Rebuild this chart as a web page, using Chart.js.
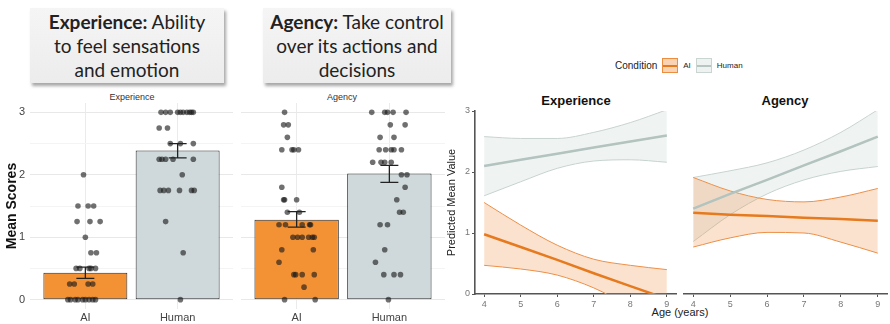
<!DOCTYPE html>
<html>
<head>
<meta charset="utf-8">
<script src="https://cdn.jsdelivr.net/npm/chart.js@4.4.0/dist/chart.umd.min.js"></script>
<style>
  body { margin: 0; width: 890px; height: 324px; background: #fff; position: relative; overflow: hidden; font-family: "Liberation Sans", Arial, sans-serif; }
  .box { position: absolute; top: 8px; height: 75px; background: linear-gradient(#f5f5f5, #ececec); box-shadow: 2px 3px 3px rgba(0,0,0,0.35);
         font-family: Lato, sans-serif; font-size: 19px; line-height: 24px; text-align: center; color: #222; display: flex; align-items: center; justify-content: center; }
  .cv { position: absolute; }
  .lbl { position: absolute; transform: translateX(-50%); white-space: nowrap; }
  .strip { font-size: 9px; color: #333; top: 92px; }
  .ptitle { font-size: 13px; font-weight: bold; color: #111; top: 93px; }
  .legend { position: absolute; top: 58px; left: 615px; display: flex; align-items: center; font-size: 10px; color: #222; }
  .sw { width: 16px; height: 15px; position: relative; margin: 0 5px 0 5px; box-sizing: border-box; }
  .sw::after { content: ""; position: absolute; left: 0; right: 0; top: 6px; height: 2px; }
  .sw.ai { background: #f9d3b3; border: 1px solid #ec8d40; }
  .sw.ai::after { background: #e67a1e; }
  .sw.hu { background: #eef2f1; border: 1px solid #cad5d2; }
  .sw.hu::after { background: #b8c6c2; }
  .small { font-size: 8px; }
</style>
</head>
<body>

<div class="box" style="left:30px;width:194px;"><div><b>Experience:</b> Ability<br>to feel sensations<br>and emotion</div></div>
<div class="box" style="left:263px;width:188px;"><div><b>Agency:</b> Take control<br>over its actions and<br>decisions</div></div>

<div class="lbl strip" style="left:132px;">Experience</div>
<div class="lbl strip" style="left:342px;">Agency</div>

<div class="legend">Condition<span class="sw ai"></span><span class="small">AI</span><span class="sw hu"></span><span class="small">Human</span></div>
<div class="lbl ptitle" style="left:576px;">Experience</div>
<div class="lbl ptitle" style="left:785px;">Agency</div>
<div class="lbl" style="left:680px;top:306px;font-size:11px;color:#222;">Age (years)</div>

<canvas id="barExp" class="cv" width="237" height="236" style="left:0;top:88px;"></canvas>
<canvas id="barAg" class="cv" width="213" height="236" style="left:237px;top:88px;"></canvas>
<canvas id="lineExp" class="cv" width="234" height="224" style="left:445px;top:100px;"></canvas>
<canvas id="lineAg" class="cv" width="210" height="224" style="left:680px;top:100px;"></canvas>

<script>
// カテゴリ
const conditions = ['AI', 'Human'];

// 平均値と標準誤差の範囲
const expMeans = [0.43, 2.39];
const expErrLow = [0.34, 2.27];
const expErrHigh = [0.52, 2.50];
const agMeans = [1.28, 2.02];
const agErrLow = [1.16, 1.88];
const agErrHigh = [1.41, 2.15];

// 個人の得点（Experience）とジッター
const expAiScores = [2.0, 1.5, 1.5, 1.5, 1.25, 1.25, 1.25, 1.0, 0.75, 0.75, 0.5, 0.5, 0.5, 0.5, 0.5,
  0.25, 0.25, 0.25, 0.25, 0, 0, 0, 0, 0, 0, 0, 0, 0];
const expAiJitter = [-0.02, -0.08, 0.03, 0.09, -0.09, 0.05, 0.16, 0.0, 0.06, 0.12, -0.10, -0.06, 0.04, 0.06, 0.11,
  -0.17, -0.12, 0.03, 0.08, -0.19, -0.16, -0.11, -0.08, -0.03, 0.0, 0.04, 0.08, 0.11];
const expHumanScores = [3, 3, 3, 3, 3, 3, 3, 3, 3, 3, 2.75, 2.75, 2.5, 2.5, 2.5, 2.25, 2.25, 2.25, 2.25, 2.25,
  2.0, 1.75, 1.75, 1.75, 1.75, 1.75, 1.75, 1.25, 0.75, 0];
const expHumanJitter = [-0.18, -0.13, -0.08, 0.0, 0.03, 0.06, 0.10, 0.13, 0.15, 0.17, -0.20, -0.11, -0.08, 0.03, 0.17,
  -0.20, -0.17, -0.13, -0.05, 0.17, 0.05, -0.19, -0.15, -0.10, 0.02, 0.15, 0.18, -0.13, 0.06, 0.03];

// 個人の得点（Agency）とジッター
const agAiScores = [3.0, 2.8, 2.8, 2.6, 2.4, 2.4, 2.4, 2.4, 1.8, 1.6, 1.6, 1.6, 1.4, 1.4, 1.2, 1.2, 1.2, 1.2, 1.2,
  1.0, 1.0, 1.0, 1.0, 1.0, 1.0, 0.8, 0.8, 0.6, 0.4, 0.4, 0.4, 0.4, 0.2, 0, 0];
const agAiJitter = [-0.13, -0.14, -0.09, -0.10, -0.16, -0.05, -0.03, 0.02, -0.16, -0.14, -0.13, 0.0, -0.10, 0.03,
  -0.19, -0.12, 0.06, 0.14, 0.15, -0.04, 0.01, 0.06, 0.13, 0.17, 0.19, -0.16, 0.18, -0.19, -0.03, -0.01, 0.06, 0.19,
  0.08, -0.13, 0.20];
const agHumanScores = [3.0, 3.0, 3.0, 3.0, 3.0, 2.8, 2.8, 2.6, 2.6, 2.4, 2.4, 2.4, 2.4, 2.4, 2.2, 2.2, 2.2, 2.2,
  2.0, 2.0, 1.8, 1.6, 1.4, 1.4, 1.2, 1.2, 0.8, 0.6, 0.4, 0.4, 0.4, 0];
const agHumanJitter = [-0.19, -0.05, -0.02, 0.04, 0.18, 0.01, 0.17, -0.10, 0.05, -0.11, -0.04, 0.02, 0.05, 0.13,
  -0.18, -0.09, -0.05, 0.02, 0.13, 0.19, 0.17, 0.08, 0.11, 0.15, -0.10, -0.02, -0.05, -0.15, -0.06, 0.05, 0.12, -0.01];

// 年齢ごとの予測値（右側のパネル）
const ages = [4, 5, 6, 7, 8, 9];
const expHumanFit = [2.10, 2.20, 2.30, 2.40, 2.50, 2.60];
const expHumanHi = [2.58, 2.55, 2.55, 2.65, 2.81, 3.02];
const expHumanLo = [1.61, 1.84, 2.06, 2.18, 2.20, 2.16];
const expAiFit = [0.98, 0.77, 0.56, 0.34, 0.13, -0.08];
const expAiHi = [1.50, 1.13, 0.80, 0.57, 0.47, 0.40];
const expAiLo = [0.47, 0.41, 0.31, 0.10, -0.20, -0.45];

const agHumanFit = [1.40, 1.64, 1.87, 2.11, 2.34, 2.58];
const agHumanHi = [1.91, 2.02, 2.15, 2.36, 2.65, 3.02];
const agHumanLo = [0.86, 1.30, 1.64, 1.87, 2.01, 2.09];
const agAiFit = [1.33, 1.30, 1.28, 1.25, 1.23, 1.20];
const agAiHi = [1.91, 1.69, 1.55, 1.51, 1.59, 1.73];
const agAiLo = [0.77, 0.92, 1.01, 1.00, 0.85, 0.67];

const barTicks = [0, 0.5, 1, 1.5, 2, 2.5, 3];
const meanTicks = [0, 1, 2, 3];

// 色
const aiBar = '#f39234';
const humanBar = '#cfd9db';
const aiLine = '#e67a1e';
const aiEdge = '#ec9049';
const aiFill = 'rgba(240, 140, 60, 0.25)';
const humanLine = '#b3c3bf';
const humanEdge = '#c8d3d0';
const humanFill = 'rgba(190, 210, 205, 0.25)';

// エラーバーを描くプラグイン
const errorBars = {
  id: 'errorBars',
  afterDatasetsDraw(chart, args, opts) {
    const { ctx, scales: { x, y } } = chart;
    ctx.save();
    ctx.strokeStyle = '#222';
    ctx.lineWidth = 1.3;
    opts.lo.forEach((lo, i) => {
      const px = x.getPixelForValue(i);
      const yl = y.getPixelForValue(lo);
      const yh = y.getPixelForValue(opts.hi[i]);
      ctx.beginPath();
      ctx.moveTo(px, yl); ctx.lineTo(px, yh);
      ctx.moveTo(px - 9, yl); ctx.lineTo(px + 9, yl);
      ctx.moveTo(px - 9, yh); ctx.lineTo(px + 9, yh);
      ctx.stroke();
    });
    ctx.restore();
  }
};

function toPoints(scores, jitter, cat) {
  return scores.map((s, i) => ({ x: cat + jitter[i], y: s }));
}

function barChart(id, means, lo, hi, aiScores, aiJit, huScores, huJit, showY) {
  const ctx = document.getElementById(id).getContext('2d');
  return new Chart(ctx, {
    type: 'bar',
    data: {
      datasets: [
        {
          type: 'scatter',
          data: toPoints(aiScores, aiJit, 0).concat(toPoints(huScores, huJit, 1)),
          backgroundColor: 'rgba(25, 25, 25, 0.62)',
          borderWidth: 0,
          pointRadius: 2.8,
          order: 0
        },
        {
          data: means.map((m, i) => ({ x: i, y: m })),
          backgroundColor: [aiBar, humanBar],
          borderColor: '#2a2a2a',
          borderWidth: 1,
          borderSkipped: false,
          categoryPercentage: 1,
          barPercentage: 0.91,
          order: 1
        }
      ]
    },
    options: {
      responsive: false,
      animation: false,
      layout: { padding: { top: 15, right: showY ? 2 : 5, left: 0, bottom: 0 } },
      plugins: {
        legend: { display: false },
        tooltip: { enabled: false },
        errorBars: { lo: lo, hi: hi }
      },
      scales: {
        x: {
          type: 'linear',
          offset: false,
          min: -0.6,
          max: 1.6,
          afterBuildTicks: s => { s.ticks = [{ value: 0 }, { value: 1 }]; },
          afterFit: s => { s.height = 15; },
          ticks: { callback: v => conditions[v], color: '#444', font: { size: 11 }, padding: 2 },
          grid: { color: '#ebebeb', drawTicks: false, offset: false },
          border: { display: false }
        },
        y: {
          min: -0.15,
          max: 3.15,
          afterBuildTicks: s => { s.ticks = barTicks.map(v => ({ value: v })); },
          afterFit: s => { s.width = showY ? 30 : 1; },
          ticks: {
            display: showY,
            callback: v => (Number.isInteger(v) ? v : ''),
            color: '#444', font: { size: 11 }, padding: 5
          },
          grid: { color: c => (Number.isInteger(c.tick.value) ? '#e8e8e8' : '#f4f4f4'), drawTicks: false },
          border: { display: false },
          title: { display: showY, text: 'Mean Scores', color: '#111', font: { size: 14, weight: 'bold' }, padding: { top: 4, bottom: 0 } }
        }
      }
    },
    plugins: [errorBars]
  });
}

function xy(vals) {
  return vals.map((v, i) => ({ x: ages[i], y: v }));
}

function lineChart(id, aiFit, aiHi, aiLo, huFit, huHi, huLo, showY) {
  const ctx = document.getElementById(id).getContext('2d');
  const edge = (vals, color, fill, bg) => ({
    data: xy(vals), borderColor: color, borderWidth: 1, pointRadius: 0,
    fill: fill, backgroundColor: bg, cubicInterpolationMode: 'monotone', clip: 0
  });
  return new Chart(ctx, {
    type: 'line',
    data: {
      datasets: [
        { data: xy(aiFit), borderColor: aiLine, borderWidth: 2.5, pointRadius: 0, fill: false, clip: 0 },
        { data: xy(huFit), borderColor: humanLine, borderWidth: 2.5, pointRadius: 0, fill: false, clip: 0 },
        edge(aiHi, aiEdge, '+1', aiFill),
        edge(aiLo, aiEdge, false, aiFill),
        edge(huHi, humanEdge, '+1', humanFill),
        edge(huLo, humanEdge, false, humanFill)
      ]
    },
    options: {
      responsive: false,
      animation: false,
      layout: { padding: { top: 11, left: showY ? 0 : 4, right: 3, bottom: 0 } },
      plugins: { legend: { display: false }, tooltip: { enabled: false } },
      scales: {
        x: {
          type: 'linear',
          min: 3.75,
          max: 9.25,
          afterBuildTicks: s => { s.ticks = ages.map(v => ({ value: v })); },
          afterFit: s => { s.height = 30; },
          ticks: { color: '#777', font: { size: 9 }, padding: 2 },
          grid: { drawOnChartArea: false, color: '#555', tickLength: 3 },
          border: { color: '#555', width: 1.6 }
        },
        y: {
          display: showY,
          min: 0,
          max: 3,
          afterBuildTicks: s => { s.ticks = meanTicks.map(v => ({ value: v })); },
          afterFit: s => { s.width = showY ? 30 : 0; },
          ticks: { color: '#777', font: { size: 9 }, padding: 2 },
          grid: { drawOnChartArea: false, color: '#555', tickLength: 3 },
          border: { color: '#555', width: 1.6 },
          title: { display: true, text: 'Predicted Mean Value', color: '#222', font: { size: 11 }, padding: 0 }
        }
      }
    }
  });
}

function renderAll() {
  barChart('barExp', expMeans, expErrLow, expErrHigh, expAiScores, expAiJitter, expHumanScores, expHumanJitter, true);
  barChart('barAg', agMeans, agErrLow, agErrHigh, agAiScores, agAiJitter, agHumanScores, agHumanJitter, false);
  lineChart('lineExp', expAiFit, expAiHi, expAiLo, expHumanFit, expHumanHi, expHumanLo, true);
  lineChart('lineAg', agAiFit, agAiHi, agAiLo, agHumanFit, agHumanHi, agHumanLo, false);
}

if (document.readyState === 'loading') {
  document.addEventListener('DOMContentLoaded', renderAll);
} else {
  renderAll();
}
</script>
</body>
</html>
